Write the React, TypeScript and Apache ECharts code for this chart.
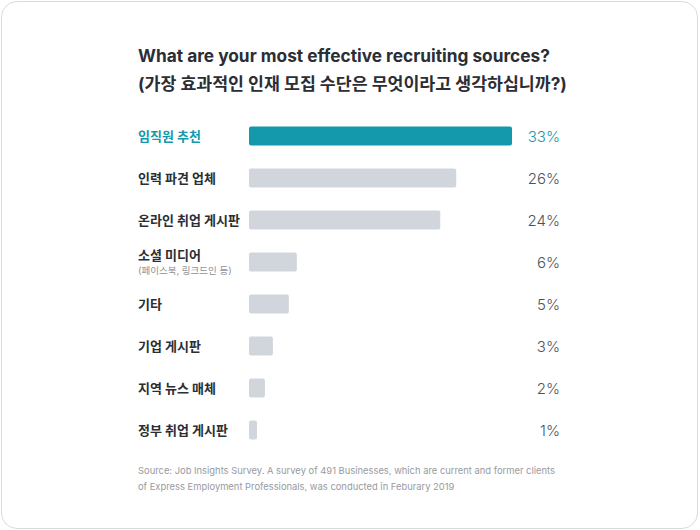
import React, { useEffect, useRef } from "react";
import * as echarts from "echarts";

const categories = [
  "임직원 추천",
  "인력 파견 업체",
  "온라인 취업 게시판",
  "소셜 미디어",
  "기타",
  "기업 게시판",
  "지역 뉴스 매체",
  "정부 취업 게시판",
];
const subLabels: Record<string, string> = { "소셜 미디어": "(페이스북, 링크드인 등)" };
const values = [33, 26, 24, 6, 5, 3, 2, 1];
const valueLabels = ["33%", "26%", "24%", "6%", "5%", "3%", "2%", "1%"];
const highlightIndex = 0;

const titleText = "What are your most effective recruiting sources?\n(가장 효과적인 인재 모집 수단은 무엇이라고 생각하십니까?)";
const sourceText =
  "Source: Job Insights Survey. A survey of 491 Businesses, which are current and former clients\nof Express Employment Professionals, was conducted in Feburary 2019";

const FONT = "Inter, 'Noto Sans CJK KR', sans-serif";
const TEAL = "#1399ab";
const GRAY = "#d1d5dc";
const DARK = "#2b2e34";

export default function App() {
  const ref = useRef<HTMLDivElement>(null);
  useEffect(() => {
    if (!ref.current) return;
    const chart = echarts.init(ref.current, undefined, { renderer: "svg" });
    chart.setOption({
      animation: false,
      textStyle: { fontFamily: FONT },
      title: {
        text: titleText,
        left: 138,
        top: 42,
        padding: 0,
        textStyle: {
          fontFamily: FONT,
          fontSize: 17.3,
          fontWeight: 700,
          lineHeight: 27.5,
          color: DARK,
        },
      },
      graphic: [
        {
          type: "text",
          left: 138,
          top: 462,
          style: {
            text: sourceText,
            font: `9.4px ${FONT}`,
            lineHeight: 16,
            fill: "#979aa1",
          },
        },
      ],
      grid: { left: 249, width: 263, top: 115, height: 336 },
      xAxis: { type: "value", min: 0, max: 33, show: false },
      yAxis: [
        {
          type: "category",
          data: categories,
          inverse: true,
          position: "left",
          axisLine: { show: false },
          axisTick: { show: false },
          axisLabel: {
            align: "left",
            margin: 111,
            fontFamily: FONT,
            formatter: (v: string, i: number) => {
              if (i === highlightIndex) return `{hl|${v}}`;
              if (subLabels[v]) return `{main|${v}}\n{sub|${subLabels[v]}}`;
              return `{main|${v}}`;
            },
            rich: {
              main: { fontFamily: FONT, fontSize: 13, fontWeight: 700, color: DARK, lineHeight: 17 },
              hl: { fontFamily: FONT, fontSize: 13, fontWeight: 700, color: TEAL, lineHeight: 17 },
              sub: { fontFamily: FONT, fontSize: 9.5, color: "#8e9299", lineHeight: 15 },
            },
          },
        },
        {
          type: "category",
          data: valueLabels,
          inverse: true,
          position: "right",
          axisLine: { show: false },
          axisTick: { show: false },
          axisLabel: {
            align: "right",
            margin: 48,
            fontFamily: FONT,
            formatter: (v: string, i: number) => (i === highlightIndex ? `{hl|${v}}` : `{n|${v}}`),
            rich: {
              n: { fontFamily: FONT, fontSize: 15, fontWeight: 300, color: "#4f535a" },
              hl: { fontFamily: FONT, fontSize: 15, fontWeight: 300, color: TEAL },
            },
          },
        },
      ],
      series: [
        {
          type: "bar",
          yAxisIndex: 0,
          barWidth: 19,
          data: values.map((v, i) => ({
            value: v,
            itemStyle: { color: i === highlightIndex ? TEAL : GRAY, borderRadius: 2 },
          })),
        },
      ],
    });
    return () => chart.dispose();
  }, []);
  return (
    <div style={{ position: "absolute", left: 0, top: 0, width: 700, height: 530, background: "#fff" }}>
      <div
        style={{
          position: "absolute",
          left: 1,
          top: 1,
          width: 697,
          height: 528,
          boxSizing: "border-box",
          border: "1px solid #d9dbe0",
          borderRadius: 16,
        }}
      />
      <div ref={ref} style={{ position: "absolute", left: 0, top: 0, width: 700, height: 530 }} />
    </div>
  );
}
